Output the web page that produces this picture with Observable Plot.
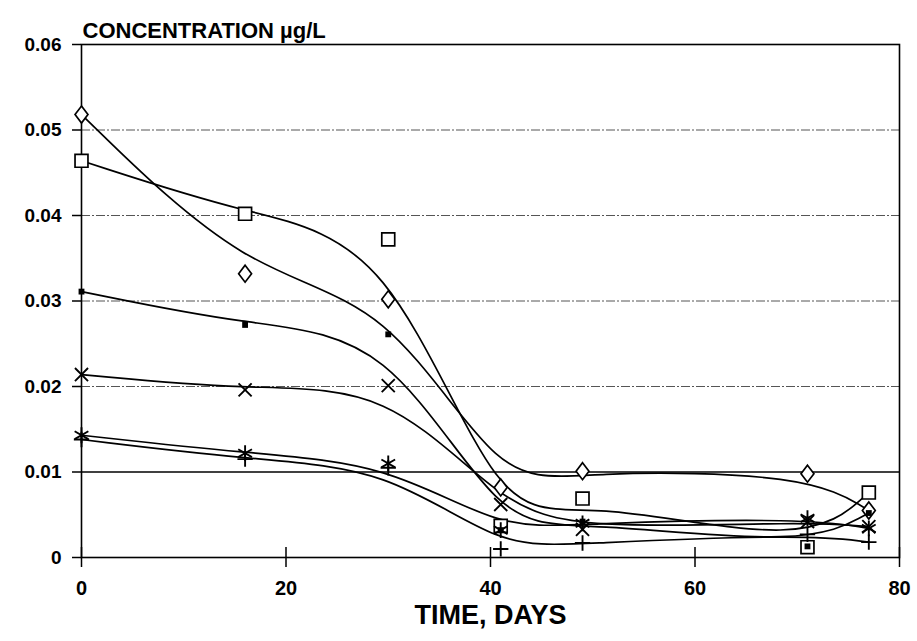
<!DOCTYPE html>
<html>
<head>
<meta charset="utf-8">
<script src="https://cdn.jsdelivr.net/npm/d3@7"></script>
<script src="https://cdn.jsdelivr.net/npm/@observablehq/plot@0.6"></script>
<style>
  html, body { margin: 0; padding: 0; background: white; }
</style>
</head>
<body>
<div id="chart"></div>
<script>
// Data
const days = [0, 16, 30, 41, 49, 71, 77];
const diamondValues = [0.0518, 0.0332, 0.0302, 0.0082, 0.0101, 0.0098, 0.0055];
const squareValues = [0.0464, 0.0402, 0.0372, 0.0037, 0.0069, 0.0012, 0.0076];
const dotValues = [0.0311, 0.0272, 0.0261, 0.0032, 0.0042, 0.0013, 0.0052];
const timesValues = [0.0214, 0.0196, 0.0201, 0.0062, 0.0033, 0.0042, 0.0036];
const asteriskValues = [0.0143, 0.0122, 0.0110, 0.0032, 0.0040, 0.0046, 0.0034];
const plusValues = [0.0138, 0.0115, 0.0105, 0.0010, 0.0017, 0.0027, 0.0018];

const xTicks = [0, 20, 40, 60, 80];
const yTicks = [0, 0.01, 0.02, 0.03, 0.04, 0.05, 0.06];
const gridDashed = [0.02, 0.03, 0.04, 0.05];
const gridSolid = [0.01];

const titleText = "CONCENTRATION µg/L";
const xLabelText = "TIME, DAYS";

const series = [
  {name: "diamond", values: diamondValues},
  {name: "square", values: squareValues},
  {name: "dot", values: dotValues},
  {name: "times", values: timesValues},
  {name: "asterisk", values: asteriskValues},
  {name: "plus", values: plusValues}
];
const rows = series.flatMap(s => days.map((d, i) => ({day: d, value: s.values[i], name: s.name})));
const of = name => rows.filter(r => r.name === name);

// A diamond a little wider than d3's default one
const wideDiamond = {
  draw(context, size) {
    const r = Math.sqrt(size / Math.PI);
    const w = r * 0.76;
    context.moveTo(0, -r);
    context.lineTo(w, 0);
    context.lineTo(0, r);
    context.lineTo(-w, 0);
    context.closePath();
  }
};

const font = "'Liberation Sans', Arial, Helvetica, sans-serif";

const chart = Plot.plot({
  width: 917,
  height: 641,
  marginLeft: 81,
  marginRight: 18,
  marginTop: 44,
  marginBottom: 84,
  style: {fontFamily: font, fontWeight: "bold", background: "white", color: "black"},
  x: {domain: [0, 80]},
  y: {domain: [0, 0.06]},
  marks: [
    Plot.ruleY(gridDashed, {stroke: "#555", strokeWidth: 1, strokeDasharray: "9,2,2,2"}),
    Plot.ruleY(gridSolid, {stroke: "black", strokeWidth: 1.3}),
    Plot.frame({stroke: "black", strokeWidth: 1.6}),
    Plot.axisY({ticks: yTicks, tickSize: 9, tickPadding: 11, fontSize: 19, label: null,
      tickFormat: d => d === 0 ? "0" : d.toFixed(2), strokeWidth: 1.5}),
    Plot.axisX({ticks: xTicks, tickSize: 20, dy: -10, tickFormat: () => "", label: null, strokeWidth: 1.5}),
    Plot.axisX({ticks: xTicks, tickSize: 0, tickPadding: 23, fontSize: 20, label: null}),
    Plot.line(rows, {x: "day", y: "value", z: "name", curve: "basis", stroke: "black", strokeWidth: 1.7}),
    Plot.dot(of("diamond"), {x: "day", y: "value", symbol: wideDiamond, r: 8.5, fill: "white", stroke: "black", strokeWidth: 1.7}),
    Plot.dot(of("square"), {x: "day", y: "value", symbol: "square", r: 7.3, fill: "white", stroke: "black", strokeWidth: 1.7}),
    Plot.dot(of("dot"), {x: "day", y: "value", symbol: "square", r: 3.3, fill: "black", stroke: "none"}),
    Plot.dot(of("times"), {x: "day", y: "value", symbol: "times", r: 6, fill: "none", stroke: "black", strokeWidth: 1.9}),
    Plot.dot(of("asterisk"), {x: "day", y: "value", symbol: "asterisk", r: 7.5, fill: "none", stroke: "black", strokeWidth: 1.9}),
    Plot.dot(of("plus"), {x: "day", y: "value", symbol: "plus", r: 5, fill: "none", stroke: "black", strokeWidth: 1.9}),
    Plot.text([titleText], {frameAnchor: "top-left", dy: -22, dx: 1, textAnchor: "start", fontSize: 22, fontWeight: "bold"}),
    Plot.text([xLabelText], {frameAnchor: "bottom", dy: 66, fontSize: 27, fontWeight: "bold"})
  ]
});
document.getElementById("chart").appendChild(chart);
</script>
</body>
</html>
